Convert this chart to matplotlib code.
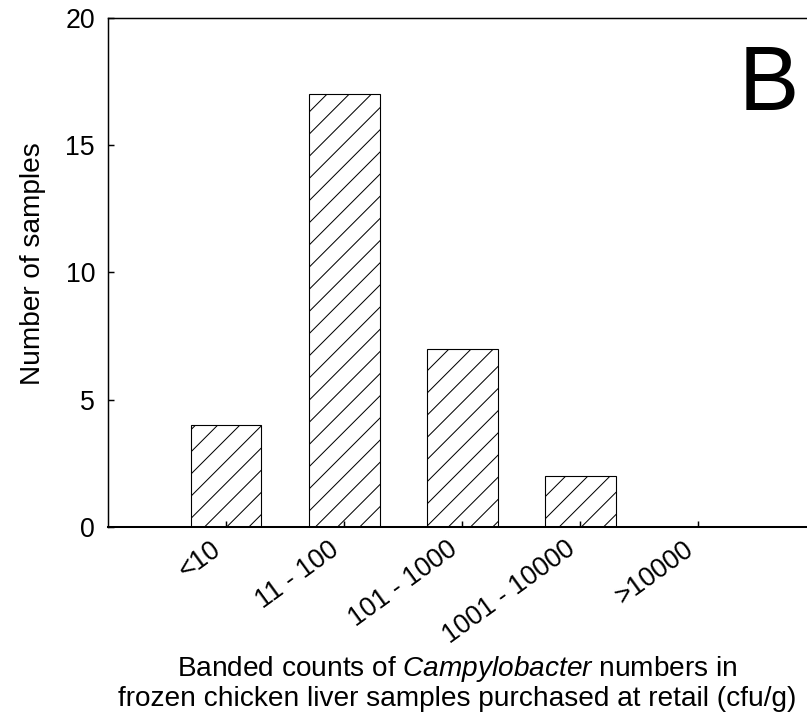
import matplotlib
matplotlib.use('Agg')
import matplotlib.pyplot as plt

categories = ['<10', '11 - 100', '101 - 1000', '1001 - 10000', '>10000']
sample_counts = [4, 17, 7, 2, 0]
y_ticks = [0, 5, 10, 15, 20]
panel_letter = 'B'

plt.rcParams.update({
    'font.family': ['Liberation Sans', 'DejaVu Sans'],
    'font.size': 14.5,
    'mathtext.fontset': 'custom',
    'mathtext.rm': 'Liberation Sans',
    'mathtext.it': 'Liberation Sans:italic',
    'hatch.linewidth': 0.55,
})

dpi = 133
fig = plt.figure(figsize=(807 / dpi, 726 / dpi), dpi=dpi)
ax = fig.add_axes([108 / 807, 1 - 527 / 726, 1 - 108 / 807, (527 - 18) / 726])

x = list(range(len(categories)))
ax.bar(x, sample_counts, width=0.6, color='white', edgecolor='black',
       linewidth=0.6, hatch='//')

ax.set_xlim(-1, 4.92)
ax.set_ylim(0, 20)
ax.set_yticks(y_ticks)
ax.set_xticks(x)
ax.set_xticklabels(categories, rotation=36, ha='right')

ax.tick_params(axis='both', direction='in', length=3.2, width=0.8, labelsize=14.5)
ax.tick_params(axis='x', pad=5)
ax.tick_params(axis='y', pad=7)

ax.spines['right'].set_visible(False)
for side in ('left', 'top'):
    ax.spines[side].set_linewidth(0.8)
ax.spines['bottom'].set_linewidth(1.1)

ax.set_ylabel('Number of samples', fontsize=15.2)
ax.yaxis.set_label_coords(-0.088, 0.517)

ax.set_xlabel('Banded counts of $\\mathit{Campylobacter}$ numbers in\n'
              'frozen chicken liver samples purchased at retail (cfu/g)',
              fontsize=15.2, linespacing=1.1, va='top')
ax.xaxis.set_label_coords(0.5, -0.25)

fig.text(739 / 807, 1 - 110 / 726, panel_letter, fontsize=49, va='baseline', ha='left')

fig.savefig('out.png', dpi=dpi)
